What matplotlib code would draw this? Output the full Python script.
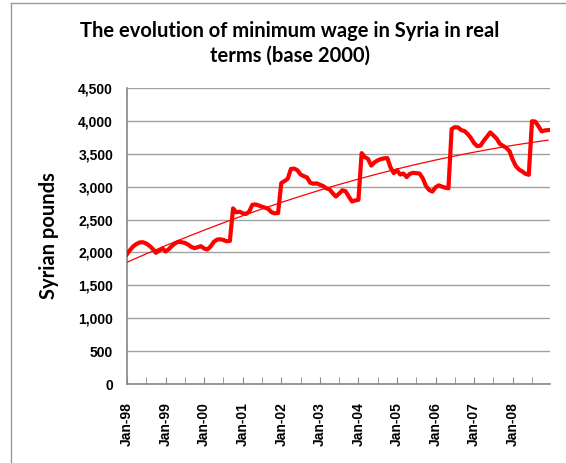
import numpy as np
import matplotlib.pyplot as plt
from matplotlib.lines import Line2D

# monthly real minimum wage, Jan-98 .. Dec-08
wage_98_00 = [1975, 2040, 2095, 2130, 2153, 2155, 2135, 2100, 2055, 1995, 2025, 2060,
              2015, 2050, 2100, 2140, 2163, 2155, 2145, 2120, 2085, 2065, 2080, 2095,
              2060, 2045, 2090, 2160, 2195, 2200, 2190, 2170, 2175, 2670, 2610, 2620]
wage_01_03 = [2595, 2585, 2620, 2725, 2730, 2715, 2695, 2680, 2660, 2610, 2595, 2600,
              3055, 3085, 3120, 3270, 3275, 3250, 3185, 3160, 3140, 3060, 3045, 3050,
              3030, 3010, 2975, 2960, 2900, 2850, 2895, 2945, 2930, 2850, 2775, 2790]
wage_04_06 = [2800, 3510, 3450, 3420, 3320, 3370, 3400, 3420, 3430, 3435, 3290, 3205,
              3250, 3185, 3200, 3145, 3195, 3210, 3205, 3200, 3130, 3010, 2950, 2925,
              2990, 3020, 3000, 2985, 2975, 3875, 3905, 3900, 3860, 3845, 3800, 3740]
wage_07_08 = [3660, 3615, 3625, 3700, 3760, 3825, 3780, 3730, 3650, 3620, 3590, 3540,
              3410, 3310, 3260, 3230, 3195, 3180, 3995, 3990, 3920, 3840, 3855, 3860]
wage = np.array(wage_98_00 + wage_01_03 + wage_04_06 + wage_07_08)
months = np.arange(len(wage))

years = ['98', '99', '00', '01', '02', '03', '04', '05', '06', '07', '08']
xlabels = ['Jan-' + y for y in years]
yticks = np.arange(0, 4501, 500)

# excel-like polynomial trendline (order 2)
coef = np.polyfit(months, wage, 2)
trend = np.polyval(coef, months)

fig = plt.figure(figsize=(5.66, 4.63), dpi=100)
ax = fig.add_axes([127/566, 1-384/463, (550-127)/566, (384-88)/463])

ax.plot(months, trend, color='red', lw=0.9, zorder=3)
ax.plot(months, wage, color='red', lw=3.0, solid_joinstyle='round', zorder=4)

ax.set_xlim(0, 131.6)
ax.set_ylim(0, 4500)
ax.set_yticks(yticks)
ax.set_yticklabels([f'{v:,}' for v in yticks], fontfamily='Liberation Sans',
                   fontweight='bold', fontsize=10)
ax.set_xticks(np.arange(0, 132, 12))
ax.set_xticklabels(xlabels, rotation=90, fontfamily='Liberation Sans',
                   fontweight='bold', fontsize=10)
ax.set_xticks(np.arange(6, 132, 12), minor=True)
ax.tick_params(axis='x', which='both', direction='in', length=5, color='#888888', pad=13)
ax.tick_params(axis='y', length=0, pad=10)

ax.grid(axis='y', color='#a0a0a0', lw=1.0)
ax.set_axisbelow(True)
for s in ['top', 'right']:
    ax.spines[s].set_visible(False)
for s in ['left', 'bottom']:
    ax.spines[s].set_color('#888888')
    ax.spines[s].set_linewidth(1.2)

ax.set_ylabel('Syrian pounds', fontfamily='Lato', fontweight='bold', fontsize=14.5, labelpad=14)

fig.text(290/566, 1-31/463, 'The evolution of minimum wage in Syria in real',
         ha='center', va='center', fontfamily='Lato', fontweight='bold', fontsize=14.5)
fig.text(290/566, 1-56/463, 'terms (base 2000)',
         ha='center', va='center', fontfamily='Lato', fontweight='bold', fontsize=14.5)

# chart area border (cropped on the right and bottom)
fig.add_artist(Line2D([11/566, 1], [1-3/463, 1-3/463], color='#999999', lw=1))
fig.add_artist(Line2D([11/566, 11/566], [0, 1-3/463], color='#999999', lw=1))

fig.savefig('out.png', dpi=100)
